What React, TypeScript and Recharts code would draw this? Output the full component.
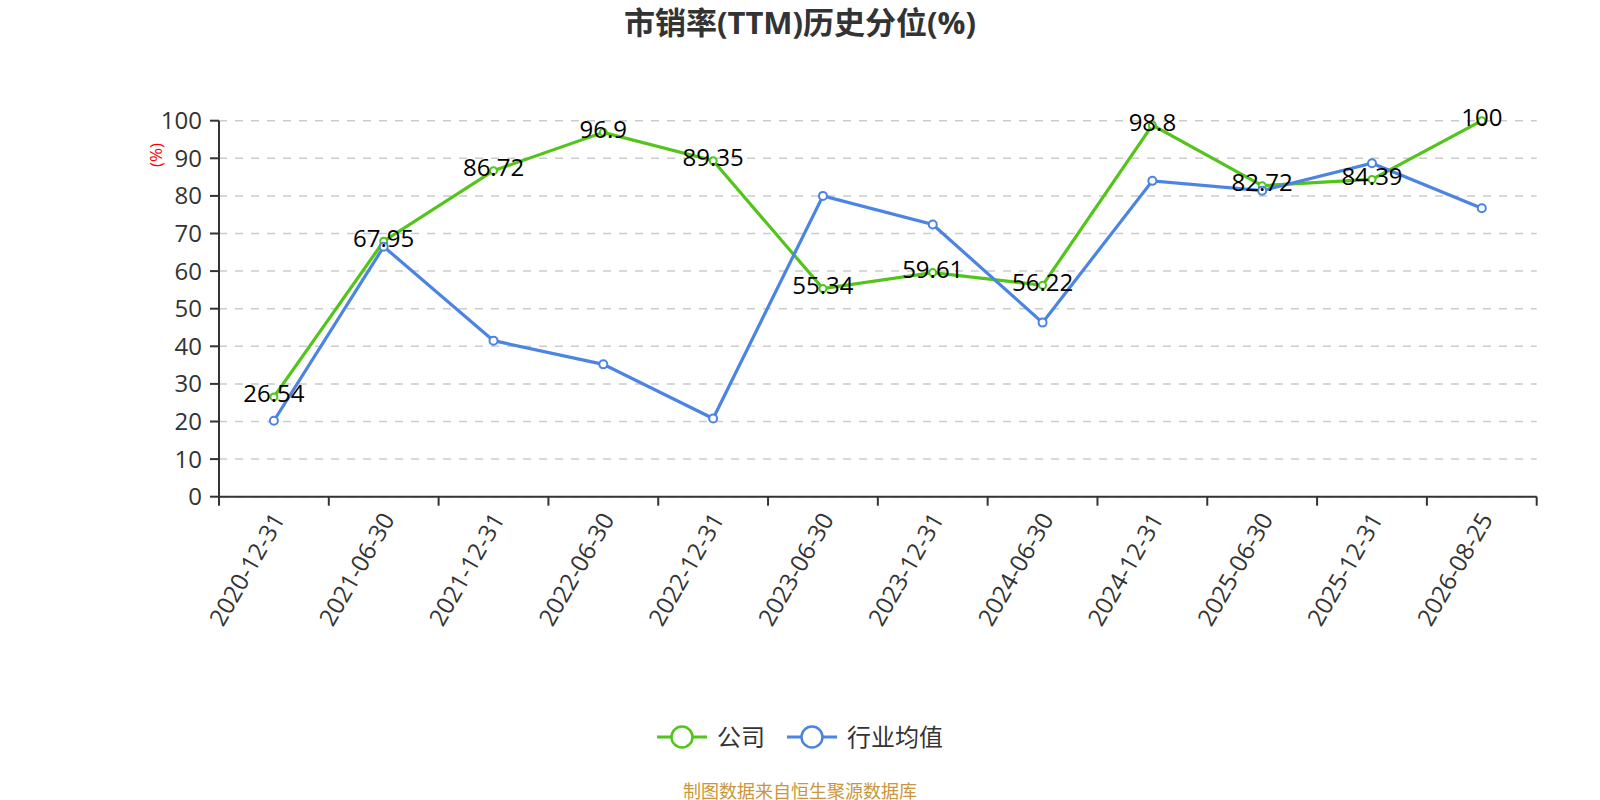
import React from 'react';
import { LineChart, Line, XAxis, YAxis, CartesianGrid, LabelList } from 'recharts';

const categories = [
  '2020-12-31', '2021-06-30', '2021-12-31', '2022-06-30', '2022-12-31', '2023-06-30',
  '2023-12-31', '2024-06-30', '2024-12-31', '2025-06-30', '2025-12-31', '2026-08-25',
];
const companyValues = [26.54, 67.95, 86.72, 96.9, 89.35, 55.34, 59.61, 56.22, 98.8, 82.72, 84.39, 100];
const industryValues = [20.2, 66.5, 41.5, 35.2, 20.8, 80.0, 72.4, 46.3, 84.0, 81.4, 88.7, 76.7];
const yTicks = [0, 10, 20, 30, 40, 50, 60, 70, 80, 90, 100];

const seriesList = [
  { key: 'company', name: '公司', color: '#52c41a' },
  { key: 'industry', name: '行业均值', color: '#4b84e2' },
];

const TITLE = '市销率(TTM)历史分位(%)';
const FOOTER = '制图数据来自恒生聚源数据库';
const Y_UNIT = '(%)';

const FONT = "'Open Sans', 'Noto Sans CJK SC', sans-serif";
const TICK_SIZE = 9;
const TICK_MARGIN = 5;

const data = categories.map((c, i) => ({
  date: c,
  company: companyValues[i],
  industry: industryValues[i],
}));

const XTick = (props: any) => {
  const { x, y, payload, index } = props;
  const half = payload && payload.offset ? payload.offset : 0;
  const axisY = y - TICK_SIZE - TICK_MARGIN;
  return (
    <g>
      <line x1={x - half} x2={x - half} y1={axisY} y2={axisY + TICK_SIZE} stroke="#333" strokeWidth={2} />
      {index === categories.length - 1 && (
        <line x1={x + half} x2={x + half} y1={axisY} y2={axisY + TICK_SIZE} stroke="#333" strokeWidth={2} />
      )}
      <text
        x={x - 3}
        y={y}
        dy="0.71em"
        transform={`rotate(-60, ${x - 3}, ${y})`}
        textAnchor="end"
        fontSize={24}
        fill="#333"
      >
        {payload.value}
      </text>
    </g>
  );
};

const ValueLabel = (props: any) => {
  const { x, y, value } = props;
  return (
    <text x={x} y={y - 4} textAnchor="middle" dominantBaseline="central" fontSize={24} fill="#000">
      {value}
    </text>
  );
};

export default function App() {
  return (
    <div style={{ position: 'absolute', left: 0, top: 0, width: 1600, height: 800, background: '#fff', fontFamily: FONT }}>
      <div
        style={{
          position: 'absolute', left: 0, top: 0, width: 1600, height: 45, lineHeight: '45px',
          textAlign: 'center', fontSize: 31, fontWeight: 'bold', color: '#333',
        }}
      >
        {TITLE}
      </div>
      <div
        style={{
          position: 'absolute', left: 156 - 20, top: 155 - 10, width: 40, height: 20, lineHeight: '20px',
          textAlign: 'center', fontSize: 17, color: '#ff0000', transform: 'rotate(-90deg)',
        }}
      >
        {Y_UNIT}
      </div>
      <LineChart
        width={1600}
        height={800}
        data={data}
        margin={{ top: 120.7, right: 63.3, bottom: 243.3, left: 159 }}
        style={{ position: 'absolute', left: 0, top: 0 }}
      >
        <CartesianGrid vertical={false} stroke="#ccc" strokeDasharray="8 8" strokeWidth={1.5} />
        <XAxis
          dataKey="date"
          scale="band"
          interval={0}
          height={60}
          tickSize={TICK_SIZE}
          tickMargin={TICK_MARGIN}
          tickLine={{ stroke: 'none' }}
          axisLine={{ stroke: '#333', strokeWidth: 2 }}
          tick={<XTick />}
        />
        <YAxis
          domain={[0, 100]}
          ticks={yTicks}
          interval={0}
          width={60}
          tickSize={TICK_SIZE}
          tickMargin={8}
          tickLine={{ stroke: '#333', strokeWidth: 2 }}
          axisLine={{ stroke: '#333', strokeWidth: 2 }}
          tick={{ fill: '#333', fontSize: 24 }}
        />
        <Line
          dataKey="company"
          stroke={seriesList[0].color}
          strokeWidth={3.2}
          dot={{ r: 3.5, fill: '#fff', stroke: seriesList[0].color, strokeWidth: 2 }}
          activeDot={false}
          isAnimationActive={false}
        />
        <Line
          dataKey="industry"
          stroke={seriesList[1].color}
          strokeWidth={3.2}
          dot={{ r: 4, fill: '#fff', stroke: seriesList[1].color, strokeWidth: 2 }}
          activeDot={false}
          isAnimationActive={false}
        />
        <Line
          dataKey="company"
          stroke="none"
          dot={false}
          activeDot={false}
          legendType="none"
          isAnimationActive={false}
        >
          <LabelList dataKey="company" content={<ValueLabel />} />
        </Line>
      </LineChart>
      <div
        style={{
          position: 'absolute', left: 0, top: 737 - 16, width: 1600, height: 32,
          display: 'flex', justifyContent: 'center', alignItems: 'center', gap: 22,
        }}
      >
        {seriesList.map((s) => (
          <div key={s.key} style={{ display: 'flex', alignItems: 'center', gap: 10 }}>
            <svg width={50} height={26}>
              <line x1={0} x2={50} y1={13} y2={13} stroke={s.color} strokeWidth={3} />
              <circle cx={25} cy={13} r={10.5} fill="#fff" stroke={s.color} strokeWidth={2.5} />
            </svg>
            <span style={{ fontSize: 24, color: '#333', lineHeight: '32px' }}>{s.name}</span>
          </div>
        ))}
      </div>
      <div
        style={{
          position: 'absolute', left: 0, top: 791 - 12, width: 1600, height: 24, lineHeight: '24px',
          textAlign: 'center', fontSize: 18, color: '#c9963a',
        }}
      >
        {FOOTER}
      </div>
    </div>
  );
}
